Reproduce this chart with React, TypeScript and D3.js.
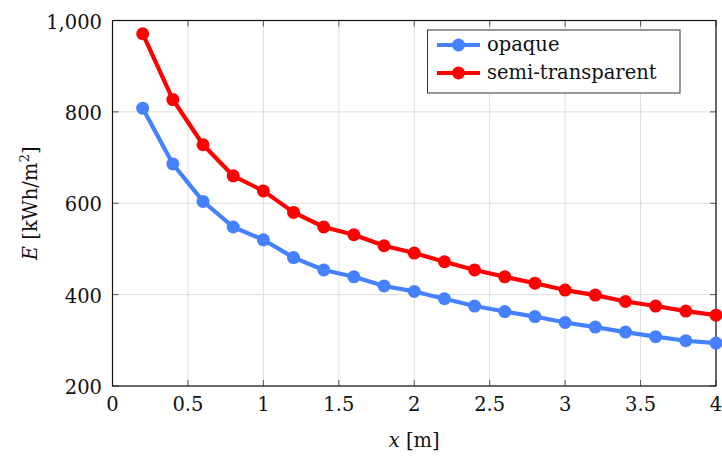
import React from "react";
import * as d3 from "d3";

const xs = [0.2, 0.4, 0.6, 0.8, 1.0, 1.2, 1.4, 1.6, 1.8, 2.0, 2.2, 2.4, 2.6, 2.8, 3.0, 3.2, 3.4, 3.6, 3.8, 4.0];
const opaque = [808, 686, 604, 548, 520, 481, 454, 439, 419, 407, 391, 375, 363, 352, 339, 329, 318, 308, 299, 294];
const semiTransparent = [971, 827, 728, 660, 627, 580, 548, 531, 507, 491, 472, 454, 439, 425, 410, 399, 385, 375, 364, 355];
const xTicks = [0, 0.5, 1, 1.5, 2, 2.5, 3, 3.5, 4];
const yTicks = [200, 400, 600, 800, 1000];
const seriesNames = ["opaque", "semi-transparent"];
const seriesColors = ["#4580ff", "#ff0000"];

const W = 722, H = 457;
const L = 112.5, R = 716, T = 20.5, B = 386;
const FONT = "DejaVu Serif, serif";
const ts: React.CSSProperties = { fontFamily: FONT, fontSize: 19.5 };

export default function App() {
  const x = d3.scaleLinear().domain([0, 4]).range([L, R]);
  const y = d3.scaleLinear().domain([200, 1000]).range([B, T]);
  const line = d3.line<number>().x((_, i) => x(xs[i])).y((d) => y(d));
  const series = [opaque, semiTransparent];
  const fmt = d3.format(",");
  return (
    <svg width={W} height={H} style={{ position: "absolute", left: 0, top: 0, background: "#fff", fontFamily: FONT }}>
      {xTicks.map((t) => (
        <line key={"gx" + t} x1={x(t)} x2={x(t)} y1={T} y2={B} stroke="#dcdcdc" strokeWidth={1} />
      ))}
      {yTicks.map((t) => (
        <line key={"gy" + t} x1={L} x2={R} y1={y(t)} y2={y(t)} stroke="#dcdcdc" strokeWidth={1} />
      ))}
      {xTicks.map((t) => (
        <g key={"tx" + t}>
          <line x1={x(t)} x2={x(t)} y1={B} y2={B - 6} stroke="#555" strokeWidth={1} />
          <line x1={x(t)} x2={x(t)} y1={T} y2={T + 6} stroke="#555" strokeWidth={1} />
          <text x={x(t)} y={B + 25} textAnchor="middle" style={ts} fill="#111">{String(t)}</text>
        </g>
      ))}
      {yTicks.map((t) => (
        <g key={"ty" + t}>
          <line x1={L} x2={L + 6} y1={y(t)} y2={y(t)} stroke="#555" strokeWidth={1} />
          <line x1={R} x2={R - 6} y1={y(t)} y2={y(t)} stroke="#555" strokeWidth={1} />
          <text x={L - 10.5} y={y(t) + 8} textAnchor="end" style={ts} fill="#111">{fmt(t)}</text>
        </g>
      ))}
      <rect x={L} y={T} width={R - L} height={B - T} fill="none" stroke="#111" strokeWidth={1.2} />
      {series.map((s, k) => (
        <g key={"s" + k}>
          <path d={line(s) || ""} fill="none" stroke={seriesColors[k]} strokeWidth={4.2} strokeLinejoin="round" />
          {s.map((v, i) => (
            <circle key={i} cx={x(xs[i])} cy={y(v)} r={6.5} fill={seriesColors[k]} />
          ))}
        </g>
      ))}
      <g>
        <rect x={427.5} y={30} width={252.5} height={63} fill="#fff" stroke="#333" strokeWidth={1} />
        {seriesNames.map((n, k) => (
          <g key={n} transform={`translate(0, ${45 + k * 28})`}>
            <line x1={437} x2={480} y1={0} y2={0} stroke={seriesColors[k]} strokeWidth={4.2} />
            <circle cx={458.5} cy={0} r={6.5} fill={seriesColors[k]} />
            <text x={487} y={6} style={ts} fill="#111">{n}</text>
          </g>
        ))}
      </g>
      <text x={(L + R) / 2} y={447} textAnchor="middle" style={ts} fill="#111">
        <tspan fontStyle="italic">x</tspan> [m]
      </text>
      <text transform={`translate(37, ${(T + B) / 2}) rotate(-90)`} textAnchor="middle" style={ts} fill="#111">
        <tspan fontStyle="italic">E</tspan> [kWh/m<tspan style={{ fontSize: 13.5 }} dy={-8}>2</tspan><tspan dy={8}>]</tspan>
      </text>
    </svg>
  );
}
